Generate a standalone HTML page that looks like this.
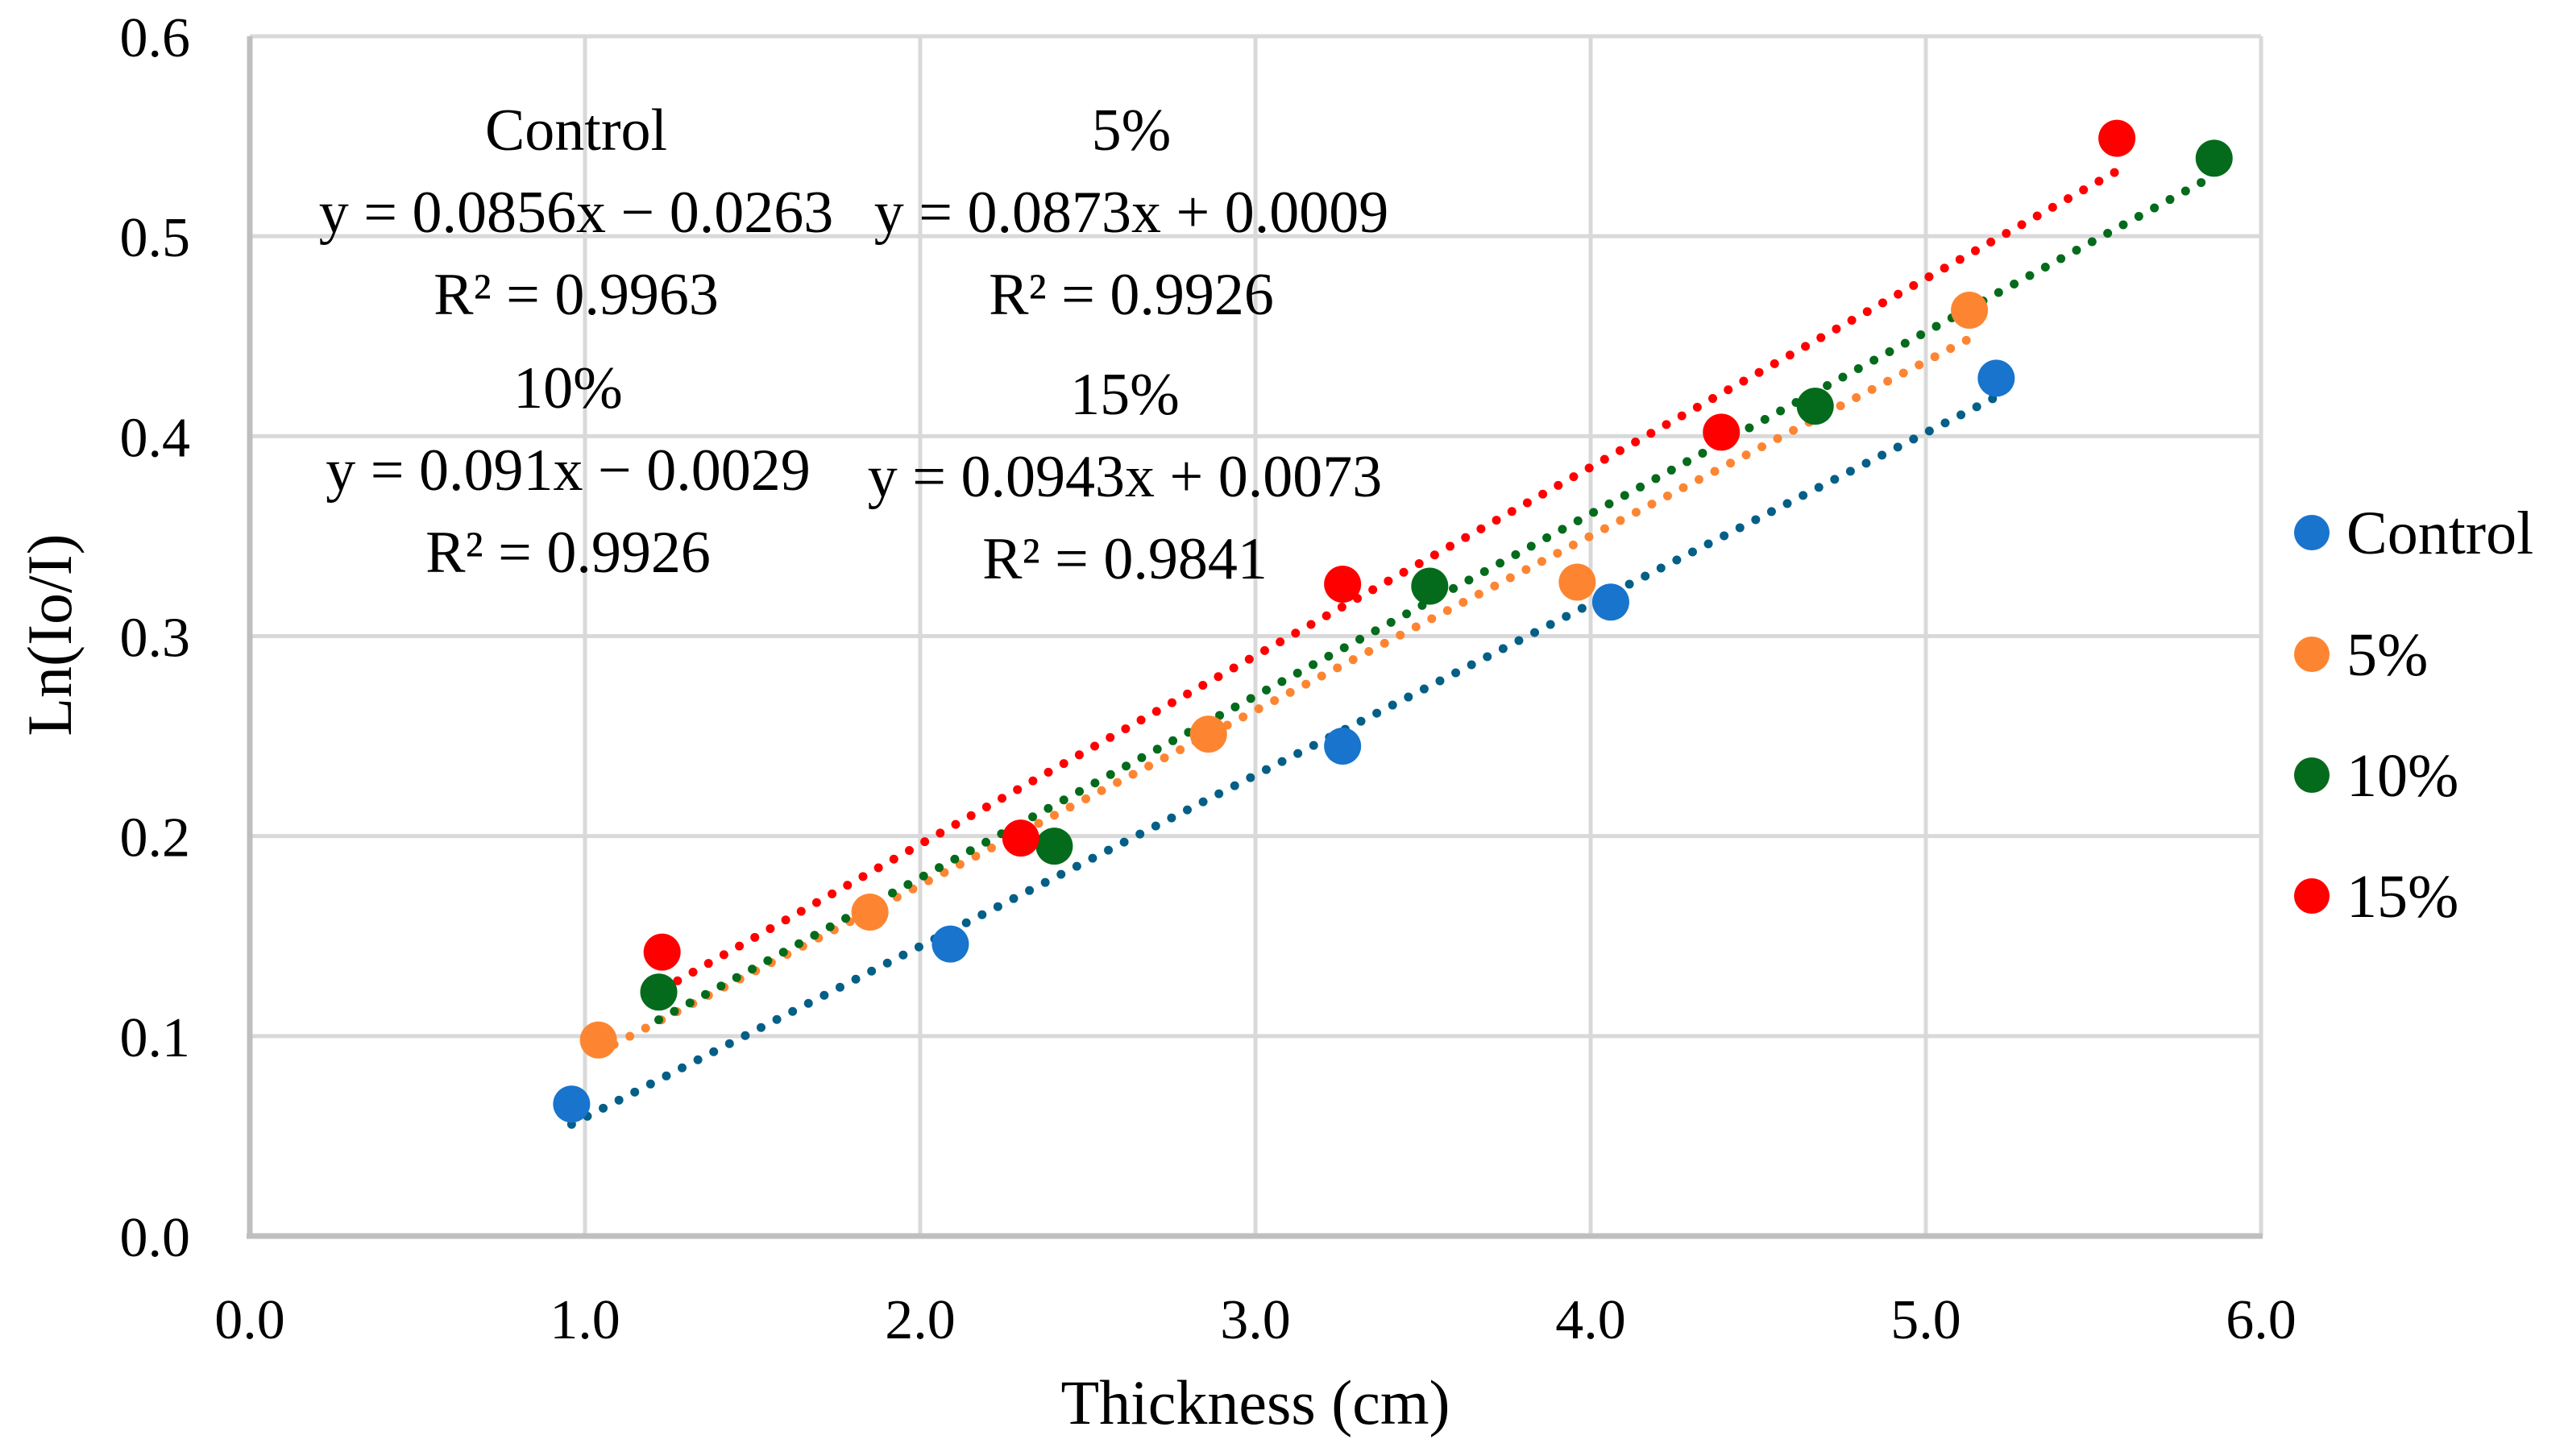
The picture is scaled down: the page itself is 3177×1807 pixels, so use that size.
<!DOCTYPE html>
<html><head><meta charset="utf-8"><style>
html,body{margin:0;padding:0;background:#fff}
svg{display:block}
text{font-family:"Liberation Serif",serif;fill:#000}
</style></head><body>
<svg id="chart" width="3177" height="1807" viewBox="0 0 3177 1807" xmlns="http://www.w3.org/2000/svg">
<g id="grid"></g>
<g id="axes"></g>
<g id="trends"></g>
<g id="points"></g>
<g id="ann"></g>
<g id="legend"></g>
<text x="1558" y="1767" font-size="78" text-anchor="middle">Thickness (cm)</text>
<text transform="translate(88,788) rotate(-90)" font-size="78" text-anchor="middle">Ln(Io/I)</text>
</svg>
<script>
const seriesNames = ["Control","5%","10%","15%"];
const seriesColors = ["#1874cd","#fd8532","#036b1b","#ff0000"];
const trendColors = ["#045f87","#fd8532","#036b1b","#ff0000"];
const controlX = [0.96,2.09,3.26,4.06,5.21];
const controlY = [0.066,0.146,0.245,0.317,0.429];
const p5X = [1.04,1.85,2.86,3.96,5.13];
const p5Y = [0.098,0.162,0.251,0.327,0.463];
const p10X = [1.22,2.40,3.52,4.67,5.86];
const p10Y = [0.122,0.195,0.325,0.415,0.539];
const p15X = [1.23,2.30,3.26,4.39,5.57];
const p15Y = [0.142,0.199,0.326,0.402,0.549];
const slopes = [0.0856,0.0873,0.091,0.0943];
const intercepts = [-0.0263,0.0009,-0.0029,0.0073];
const xTicks = [0,1,2,3,4,5,6];
const yTicks = [0,0.1,0.2,0.3,0.4,0.5,0.6];
const xTickLabels = ["0.0","1.0","2.0","3.0","4.0","5.0","6.0"];
const yTickLabels = ["0.0","0.1","0.2","0.3","0.4","0.5","0.6"];
const annTitles = ["Control","5%","10%","15%"];
const annEqs = ["y = 0.0856x \u2212 0.0263","y = 0.0873x + 0.0009","y = 0.091x \u2212 0.0029","y = 0.0943x + 0.0073"];
const annR2 = ["R\u00b2 = 0.9963","R\u00b2 = 0.9926","R\u00b2 = 0.9926","R\u00b2 = 0.9841"];

const NS="http://www.w3.org/2000/svg";
const X0=310,X1=2806,Y0=1534,Y1=45;
function sx(v){return X0+(v-0)/(6-0)*(X1-X0);}
function sy(v){return Y0-(v-0)/(0.6-0)*(Y0-Y1);}
function mk(tag,attrs,parent){const e=document.createElementNS(NS,tag);for(const k in attrs)e.setAttribute(k,attrs[k]);parent.appendChild(e);return e;}
const grid=document.getElementById('grid'),axes=document.getElementById('axes');
xTicks.forEach((t,i)=>{
  if(i>0){const l=mk('line',{x1:sx(t),x2:sx(t),y1:Y1,y2:Y0,stroke:'#d9d9d9','stroke-width':5},grid);
  
  }
  const tx=mk('text',{x:sx(t),y:1661,'font-size':70,'text-anchor':'middle'},axes);tx.textContent=xTickLabels[i];
  
  
});
yTicks.forEach((t,i)=>{
  if(i>0){const l=mk('line',{x1:X0,x2:X1,y1:sy(t),y2:sy(t),stroke:'#d9d9d9','stroke-width':5},grid);
  
  }
  const tx=mk('text',{x:236,y:sy(t)+25,'font-size':70,'text-anchor':'end'},axes);tx.textContent=yTickLabels[i];
  
  
});
const xa=mk('line',{x1:X0-4,x2:X1+2,y1:Y0,y2:Y0,stroke:'#bfbfbf','stroke-width':7},axes);


const ya=mk('line',{x1:X0,x2:X0,y1:Y1,y2:Y0+3,stroke:'#bfbfbf','stroke-width':7},axes);



const xs=[controlX,p5X,p10X,p15X],ys=[controlY,p5Y,p10Y,p15Y];
const trends=document.getElementById('trends'),pts=document.getElementById('points');
for(let s=0;s<4;s++){
  const xa0=Math.min(...xs[s]),xa1=Math.max(...xs[s]);
  const ln=mk('line',{x1:sx(xa0),y1:sy(slopes[s]*xa0+intercepts[s]),x2:sx(xa1),y2:sy(slopes[s]*xa1+intercepts[s]),stroke:trendColors[s],'stroke-width':11,'stroke-linecap':'round','stroke-dasharray':'0 22'},trends);
  
  
}
for(let s=0;s<4;s++){
  xs[s].forEach((x,i)=>{
    const c=mk('circle',{cx:sx(x),cy:sy(ys[s][i]),r:23,fill:seriesColors[s]},pts);
    
    
  });
}
const ann=document.getElementById('ann');
const annX=[715,1404,705,1396],annY=[186,186,506,514];
for(let s=0;s<4;s++){
  [annTitles[s],annEqs[s],annR2[s]].forEach((txt,k)=>{
    const t=mk('text',{x:annX[s],y:annY[s]+k*102,'font-size':74,'text-anchor':'middle'},ann);t.textContent=txt;
    
    
  });
}
const leg=document.getElementById('legend');
const legY=[661,812,962,1112];
for(let s=0;s<4;s++){
  const c=mk('circle',{cx:2869,cy:legY[s],r:22,fill:seriesColors[s]},leg);
  
  
  const t=mk('text',{x:2912,y:legY[s]+26,'font-size':76},leg);t.textContent=seriesNames[s];
  
  
}
</script>
</body></html>
